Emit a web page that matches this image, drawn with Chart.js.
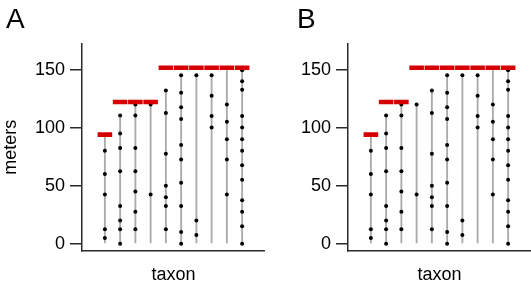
<!DOCTYPE html>
<html>
<head>
<meta charset="utf-8">
<script src="https://cdn.jsdelivr.net/npm/chart.js@4/dist/chart.umd.min.js"></script>
<style>
  html, body { margin: 0; padding: 0; background: #fff; }
  body { width: 531px; height: 286px; position: relative; overflow: hidden; font-family: 'Liberation Sans', Arial, sans-serif; }
  .panel { position: absolute; top: 0; width: 265px; height: 286px; }
  .panel canvas { display: block; }
  .tag { position: absolute; top: 4.5px; font-size: 28px; line-height: 28px; color: #000; }
</style>
</head>
<body>
<div class="panel" style="left:0"><canvas id="panelA" width="265" height="286"></canvas></div>
<div class="panel" style="left:266px"><canvas id="panelB" width="265" height="286"></canvas></div>
<div class="tag" style="left:6px">A</div>
<div class="tag" style="left:297px">B</div>
<script>
  // Taxa along the x axis (one vertical range line each).
  const taxa = [1, 2, 3, 4, 5, 6, 7, 8, 9, 10];

  // Top of each taxon's gray range line (meters).
  const lineTops = [93, 110.5, 120, 120, 132, 145, 145, 145, 150, 150];

  // Sampled occurrences per taxon (meters).
  const samples = [
    [80, 60, 42.5, 12.5, 5],
    [110.5, 95, 82.5, 62.5, 32.5, 20, 12.5, 0],
    [120, 110.5, 82.5, 62.5, 45, 27.5, 12.5],
    [120, 42.5],
    [132, 112.5, 77.5, 50, 40, 32.5, 12.5],
    [145, 130, 117.5, 107.5, 85, 72.5, 52.5, 32.5, 10, 0],
    [145, 20, 7.5],
    [145, 127.5, 110, 100],
    [120, 105, 90, 72.5, 42.5],
    [149.5, 140, 132.5, 110, 100, 90, 80, 67.5, 55, 37.5, 27.5, 15, 0],
  ];

  // Estimated range tops (red marks) for each panel.
  const rangeTopA = [94, 122, 122, 122, 151.5, 151.5, 151.5, 151.5, 151.5, 151.5];
  const rangeTopB = [94, 122, 122, 151.5, 151.5, 151.5, 151.5, 151.5, 151.5, 151.5];

  const meterTicks = [0, 50, 100, 150];

  const FONT = "'Liberation Sans', Arial, Helvetica, sans-serif";
  const AXIS = '#2a2a2a';

  const makePanel = (canvasId, rangeTops, showYTitle) => {
    const dots = [];
    samples.forEach((vals, i) => vals.forEach((v) => dots.push({ x: taxa[i], y: v })));

    new Chart(document.getElementById(canvasId), {
      type: 'bar',
      data: {
        datasets: [
          {
            type: 'scatter',
            data: taxa.map((t, i) => ({ x: t, y: rangeTops[i] })),
            pointStyle: 'line',
            pointRadius: 7.3,
            pointBorderWidth: 4.6,
            pointBorderColor: '#d60000',
            order: 0,
          },
          {
            type: 'scatter',
            data: dots,
            pointRadius: 2,
            pointBackgroundColor: '#000',
            pointBorderWidth: 0,
            order: 1,
          },
          {
            type: 'bar',
            data: taxa.map((t, i) => ({ x: t, y: [0, lineTops[i]] })),
            backgroundColor: '#ababab',
            barThickness: 1.2,
            grouped: false,
            order: 2,
          },
        ],
      },
      options: {
        responsive: false,
        animation: false,
        events: [],
        layout: { autoPadding: false, padding: { top: 44, right: 0, bottom: 0, left: 0 } },
        plugins: { legend: { display: false }, tooltip: { enabled: false } },
        scales: {
          x: {
            type: 'linear',
            min: -0.5,
            max: 11.5,
            offset: false,
            grid: { display: false },
            ticks: { display: false },
            border: { display: true, color: AXIS, width: 1.5 },
            title: {
              display: true,
              text: 'taxon',
              color: '#000',
              font: { family: FONT, size: 18 },
              padding: { top: 0, bottom: 0 },
            },
            afterFit: (s) => { s.height = 35.3; },
          },
          y: {
            type: 'linear',
            min: -6,
            max: 172,
            afterBuildTicks: (s) => { s.ticks = meterTicks.map((v) => ({ value: v })); },
            grid: { drawOnChartArea: false, drawTicks: true, tickLength: 12, color: AXIS, lineWidth: 1.5 },
            border: { display: true, color: AXIS, width: 1.5 },
            ticks: { color: '#000', font: { family: FONT, size: 18 }, padding: 5 },
            title: {
              display: showYTitle,
              text: 'meters',
              color: '#000',
              font: { family: FONT, size: 18 },
              padding: { top: 0, bottom: 0 },
            },
            afterFit: (s) => { s.width = 82; },
          },
        },
      },
    });
  };

  makePanel('panelA', rangeTopA, true);
  makePanel('panelB', rangeTopB, false);
</script>
</body>
</html>
